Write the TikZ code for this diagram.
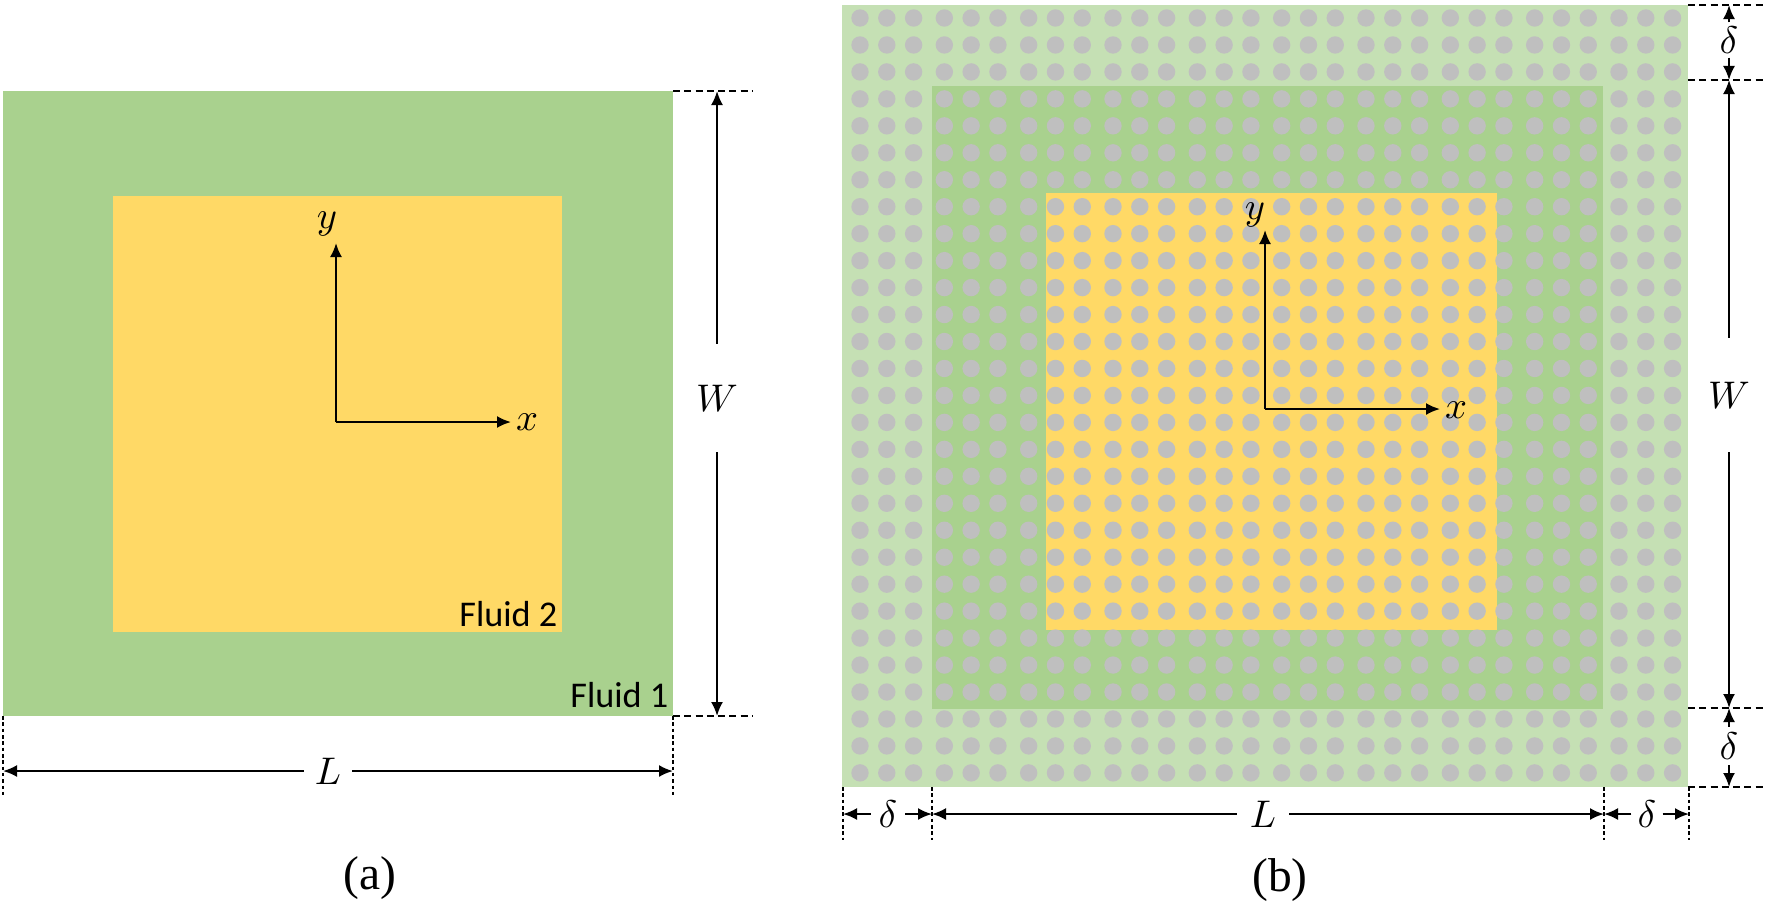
\documentclass[tikz,border=0pt]{standalone}
\usepackage{fontspec}
\usepackage{tikz}
\newfontfamily\fluidfont{Carlito}
\newfontfamily\capfont{Liberation Serif}
\usetikzlibrary{arrows.meta}

\definecolor{fluidone}{HTML}{A9D18E}
\definecolor{fluidtwo}{HTML}{FFD966}
\definecolor{porous}{HTML}{C5E0B4}
\definecolor{grain}{HTML}{BFBFBF}

\begin{document}
\begin{tikzpicture}[x=0.01cm,y=-0.01cm,
	every node/.style={inner sep=0pt},
	lab/.style={font=\fontsize{10.5}{12}\selectfont},
	fluid/.style={font=\fluidfont\fontsize{10.3}{12}\selectfont,anchor=base east},
	caption/.style={font=\capfont\fontsize{13.5}{16}\selectfont},
	dimline/.style={-{Latex[length=1.4mm,width=1.2mm]},line width=0.6pt},
	axis/.style={-{Latex[length=1.4mm,width=1.2mm]},line width=0.6pt},
	extline/.style={line width=0.45pt,dash pattern=on 2pt off 1.2pt},
	extvline/.style={line width=0.45pt,dash pattern=on 1pt off 0.8pt},
	grain/.style={fill=grain}]
	\useasboundingbox (0,0) rectangle (1770,915);
	% (a) two fluids
	\fill [fluidone] (3,91) rectangle (673,716);
	\fill [fluidtwo] (113,196) rectangle (562,632);
	\node [fluid] (ftwo) at (558,626) {Fluid 2};
	\node [fluid] (fone) at (669,707) {Fluid 1};
	\coordinate (ao) at (336,422);
	\coordinate (ay) at (336,243);
	\coordinate (ax) at (511,422);
	\draw [axis] (ao) -- (ay);
	\draw [axis] (ao) -- (ax);
	\node [lab] (aylab) at (327,224) {$y$};
	\node [lab] (axlab) at (527,422) {$x$};
	\coordinate (aNE) at (673,91);
	\coordinate (aSE) at (673,716);
	\coordinate (aSW) at (3,716);
	\coordinate (aNEx) at (752,91);
	\coordinate (aSEx) at (752,716);
	\coordinate (aSWy) at (3,798);
	\coordinate (aSEy) at (673,798);
	\draw [extline] (aNE) -- (aNEx);
	\draw [extline] (aSE) -- (aSEx);
	\draw [extvline] (aSW) -- (aSWy);
	\draw [extvline] (aSE) -- (aSEy);
	\coordinate (aWt) at (717,91);
	\coordinate (aWb) at (717,716);
	\coordinate (aLl) at (3,771);
	\coordinate (aLr) at (673,771);
	\node [lab,minimum height=1.07cm] (aW) at (717,398) {$W$};
	\node [lab,minimum width=0.47cm] (aL) at (328,771) {$L$};
	\draw [dimline] (aW) -- (aWt);
	\draw [dimline] (aW) -- (aWb);
	\draw [dimline] (aL) -- (aLl);
	\draw [dimline] (aL) -- (aLr);
	\node [caption] (capa) at (370,878) {(a)};
	% (b) porous layers with grains
	\fill [porous] (842,5) rectangle (1688,787);
	\fill [fluidone] (932,86) rectangle (1603,709);
	\fill [fluidtwo] (1046,193) rectangle (1497,630);
	\foreach \g in {0,...,9}
	\foreach \k in {0,1,2}
	\foreach \r in {0,...,28}
	\fill [grain] ({860+84.33*\g+26.8*\k},{18+26.96*\r}) circle (8.7);
	\coordinate (bo) at (1265,409);
	\coordinate (by) at (1265,230);
	\coordinate (bx) at (1440,409);
	\draw [axis] (bo) -- (by);
	\draw [axis] (bo) -- (bx);
	\node [lab] (bylab) at (1255,215) {$y$};
	\node [lab] (bxlab) at (1456,410) {$x$};
	% right side dimensions
	\coordinate (bT) at (1729,5);
	\coordinate (bT2) at (1729,80);
	\coordinate (bB2) at (1729,708);
	\coordinate (bB) at (1729,787);
	\coordinate (bTa) at (1688,5);
	\coordinate (bTb) at (1766,5);
	\coordinate (bT2a) at (1688,80);
	\coordinate (bT2b) at (1766,80);
	\coordinate (bB2a) at (1688,708);
	\coordinate (bB2b) at (1766,708);
	\coordinate (bBa) at (1688,787);
	\coordinate (bBb) at (1766,787);
	\draw [extline] (bTa) -- (bTb);
	\draw [extline] (bT2a) -- (bT2b);
	\draw [extline] (bB2a) -- (bB2b);
	\draw [extline] (bBa) -- (bBb);
	\node [lab,minimum height=0.34cm] (bdt) at (1729,40) {$\delta$};
	\node [lab,minimum height=1.13cm] (bW) at (1729,395) {$W$};
	\node [lab,minimum height=0.37cm] (bdb) at (1729,746) {$\delta$};
	\draw [dimline] (bdt) -- (bT);
	\draw [dimline] (bdt) -- (bT2);
	\draw [dimline] (bW) -- (bT2);
	\draw [dimline] (bW) -- (bB2);
	\draw [dimline] (bdb) -- (bB2);
	\draw [dimline] (bdb) -- (bB);
	% bottom dimensions
	\coordinate (bL) at (843,814);
	\coordinate (bL2) at (932,814);
	\coordinate (bR2) at (1604,814);
	\coordinate (bR) at (1689,814);
	\coordinate (bLa) at (843,787);
	\coordinate (bLb) at (843,840);
	\coordinate (bL2a) at (932,787);
	\coordinate (bL2b) at (932,840);
	\coordinate (bR2a) at (1604,787);
	\coordinate (bR2b) at (1604,840);
	\coordinate (bRa) at (1689,787);
	\coordinate (bRb) at (1689,840);
	\draw [extvline] (bLa) -- (bLb);
	\draw [extvline] (bL2a) -- (bL2b);
	\draw [extvline] (bR2a) -- (bR2b);
	\draw [extvline] (bRa) -- (bRb);
	\node [lab,minimum width=0.33cm] (bdl) at (888,814) {$\delta$};
	\node [lab,minimum width=0.51cm] (bLen) at (1263,814) {$L$};
	\node [lab,minimum width=0.30cm] (bdr) at (1647,814) {$\delta$};
	\draw [dimline] (bdl) -- (bL);
	\draw [dimline] (bdl) -- (bL2);
	\draw [dimline] (bLen) -- (bL2);
	\draw [dimline] (bLen) -- (bR2);
	\draw [dimline] (bdr) -- (bR2);
	\draw [dimline] (bdr) -- (bR);
	\node [caption] (capb) at (1280,880) {(b)};
\end{tikzpicture}
\end{document}
